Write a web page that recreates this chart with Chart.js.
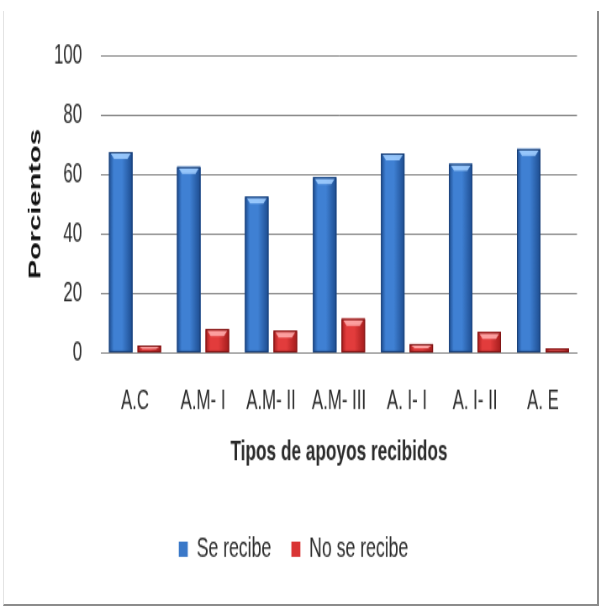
<!DOCTYPE html>
<html>
<head>
<meta charset="utf-8">
<script src="https://cdn.jsdelivr.net/npm/chart.js@4/dist/chart.umd.min.js"></script>
<style>
  html, body { margin: 0; padding: 0; background: #fff; overflow: hidden; }
  #wrap { position: relative; width: 601px; height: 608px; overflow: hidden; }
  /* the chart is drawn on a wider, shorter canvas and scaled to give tall, narrow lettering */
  #c { position: absolute; left: 0; top: 0; transform: scale(0.84056, 1.3818); transform-origin: 0 0; }
  #frame {
    position: absolute; left: 3px; top: 11px; width: 596px; height: 595px;
    box-sizing: border-box; pointer-events: none;
    border-left: 1px solid #e4e4e4;
    border-right: 2px solid #8c8c8c;
    border-bottom: 2px solid #8c8c8c;
  }
</style>
</head>
<body>
<div id="wrap">
  <canvas id="c" width="715" height="440"></canvas>
  <div id="frame"></div>
</div>
<script>
// Support types and the share (%) that receive / do not receive each one
const categories = ["A.C", "A.M- I", "A.M- II", "A.M- III", "A. I- I", "A. I- II", "A. E"];
const seRecibe = [67.5, 62.5, 52.5, 59, 67, 63.5, 68.5];
const noSeRecibe = [2.5, 8, 7.5, 11.5, 3, 7, 1.5];
const yTicks = [0, 20, 40, 60, 80, 100];

const shades = [
  { edge: '#1d4c8f', mid: '#3f80d3', light: 'rgba(160,205,255,0.9)', border: '#1a3f75' },
  { edge: '#a31c1c', mid: '#e23c3c', light: 'rgba(255,170,170,0.9)', border: '#7d1515' }
];

// Bevel-style shading painted on top of each bar, using the bar element geometry
const barShade = {
  id: 'barShade',
  afterDatasetsDraw(chart) {
    const ctx = chart.ctx;
    chart.data.datasets.forEach((ds, i) => {
      const meta = chart.getDatasetMeta(i);
      const pal = shades[i];
      meta.data.forEach(bar => {
        const p = bar.getProps(['x', 'y', 'base', 'width'], true);
        const l = p.x - p.width / 2, w = p.width, top = p.y, h = p.base - p.y;
        ctx.save();
        const g = ctx.createLinearGradient(l, 0, l + w, 0);
        g.addColorStop(0, pal.edge);
        g.addColorStop(0.2, pal.mid);
        g.addColorStop(0.55, pal.mid);
        g.addColorStop(1, pal.edge);
        ctx.fillStyle = g;
        ctx.fillRect(l, top, w, h);
        // light chevron at the top edge
        const bh = Math.min(5, h / 2);
        ctx.fillStyle = pal.light;
        ctx.beginPath();
        ctx.moveTo(l + 2, top + 1);
        ctx.lineTo(l + w - 2, top + 1);
        ctx.lineTo(l + w - 6, top + bh);
        ctx.lineTo(l + 6, top + bh);
        ctx.closePath();
        ctx.fill();
        ctx.strokeStyle = pal.border;
        ctx.lineWidth = 1;
        ctx.strokeRect(l + 0.5, top + 0.5, w - 1, Math.max(h - 1, 0));
        ctx.restore();
      });
    });
  }
};

const family = "'Liberation Sans', Arial, sans-serif";
const tickFont = { family: family, size: 20 };
const textColor = '#2a2a2a';
const gridColor = '#858585';

new Chart(document.getElementById('c'), {
  type: 'bar',
  data: {
    labels: categories,
    datasets: [
      { label: 'Se recibe', data: seRecibe, backgroundColor: '#3a78c8', borderWidth: 0 },
      { label: 'No se recibe', data: noSeRecibe, backgroundColor: '#d93434', borderWidth: 0 }
    ]
  },
  options: {
    responsive: false,
    animation: false,
    devicePixelRatio: 1,
    layout: { padding: { left: 12, right: 28.6, top: 40, bottom: 22 } },
    datasets: { bar: { categoryPercentage: 0.84, barPercentage: 0.82 } },
    plugins: {
      legend: {
        position: 'bottom',
        labels: {
          font: { family: family, size: 21 }, color: textColor,
          boxWidth: 10.7, boxHeight: 11, padding: 24
        }
      },
      tooltip: { enabled: false }
    },
    scales: {
      x: {
        grid: { display: false, drawTicks: false },
        border: { display: true, color: gridColor, width: 1 },
        ticks: { font: tickFont, color: textColor, padding: 23, maxRotation: 0 },
        title: {
          display: true, text: 'Tipos de apoyos recibidos', color: textColor,
          font: { family: family, size: 20.5, weight: 'bold' },
          padding: { top: 0, bottom: 23 }
        },
        afterFit(scale) { scale.height = 107.6; }
      },
      y: {
        min: 0, max: 100,
        afterBuildTicks(scale) { scale.ticks = yTicks.map(v => ({ value: v })); },
        grid: { color: gridColor, lineWidth: 1, drawTicks: false },
        border: { display: false },
        ticks: { font: tickFont, color: textColor, padding: 22.7 },
        title: {
          display: true, text: 'Porcientos', color: '#111',
          font: { family: family, size: 21, weight: 'bold' },
          padding: { top: 18, bottom: 0 }
        },
        afterFit(scale) { scale.width = 108.2; }
      }
    }
  },
  plugins: [barShade]
});
</script>
</body>
</html>
